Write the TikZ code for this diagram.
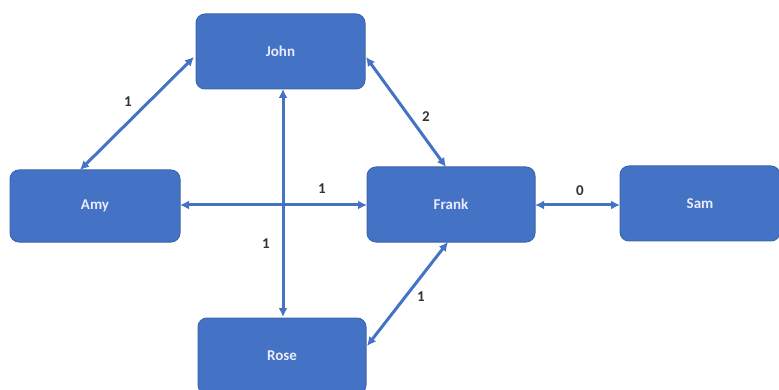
\documentclass[tikz,border=0pt]{standalone}
\usepackage{fontspec}
\setmainfont{Carlito}
\usetikzlibrary{arrows.meta}
\definecolor{boxblue}{HTML}{4472C4}
\definecolor{boxedge}{HTML}{3D66B0}
\begin{document}
\begin{tikzpicture}[x=1pt,y=-1pt,
  person/.style={draw=boxedge, line width=1pt, fill=boxblue, rounded corners=9pt,
    inner sep=0pt, text=white!92!blue, font=\fontsize{15}{17}\selectfont\bfseries},
  link/.style={draw=boxblue, line width=3pt, {Latex[length=9pt,width=9pt]}-{Latex[length=9pt,width=9pt]}},
  weight/.style={font=\fontsize{15}{17}\selectfont\bfseries, text=black!80, inner sep=1pt}]
  \useasboundingbox (0,0) rectangle (779,390);
  % people
  \node[person, minimum width=169pt, minimum height=75pt] (john) at (280.5,51.5) {John};
  \node[person, minimum width=170pt, minimum height=72pt] (amy) at (95,206) {Amy};
  \node[person, minimum width=168pt, minimum height=75pt] (frank) at (451,204.5) {Frank};
  \node[person, minimum width=160pt, minimum height=75pt] (sam) at (700,203.5) {Sam};
  \node[person, minimum width=168pt, minimum height=76pt] (rose) at (282,356) {Rose};
  % anchor points on the box edges
  \coordinate (jA) at (194,57);
  \coordinate (aJ) at (80,170);
  \coordinate (jF) at (366,57);
  \coordinate (fJ) at (446,167);
  \coordinate (jR) at (283,89);
  \coordinate (rJ) at (283,317);
  \coordinate (aF) at (180,205);
  \coordinate (fA) at (367,205);
  \coordinate (fS) at (535,205);
  \coordinate (sF) at (620,205);
  \coordinate (rF) at (367,346);
  \coordinate (fR) at (448,242);
  % connections
  \draw[link] (jA) -- (aJ);
  \draw[link] (jF) -- (fJ);
  \draw[link] (jR) -- (rJ);
  \draw[link] (aF) -- (fA);
  \draw[link] (fS) -- (sF);
  \draw[link] (rF) -- (fR);
  % weights
  \node[weight] (w1) at (128,102) {1};
  \node[weight] (w2) at (426,117) {2};
  \node[weight] (w3) at (266,244) {1};
  \node[weight] (w4) at (322,189) {1};
  \node[weight] (w5) at (580,191) {0};
  \node[weight] (w6) at (421,297) {1};
\end{tikzpicture}
\end{document}
